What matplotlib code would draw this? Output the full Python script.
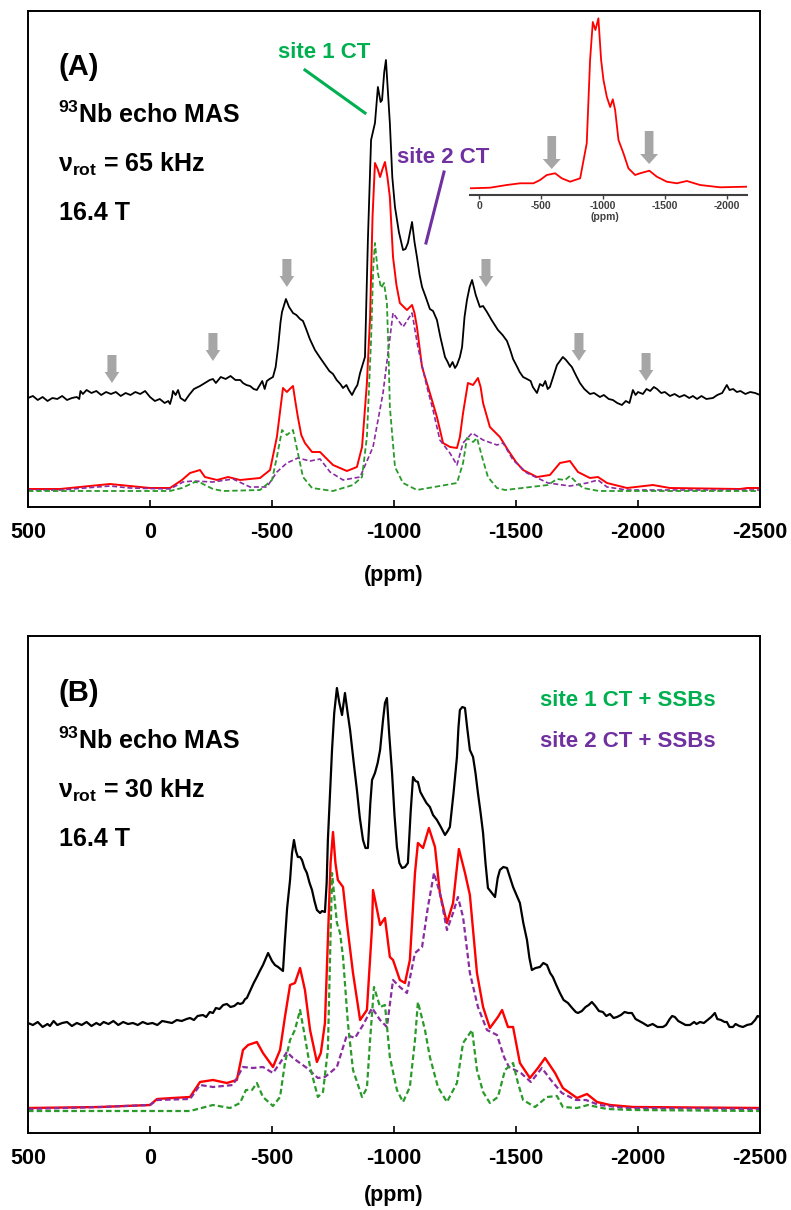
import matplotlib
matplotlib.use("Agg")
import matplotlib.pyplot as plt
from matplotlib.lines import Line2D

# ---- data (ppm positions, intensities in arbitrary units) ----
# panel A: 65 kHz, experimental spectrum
a_black_ppm = [500, 480, 460, 440, 420, 400, 380, 360, 340, 320, 300, 290, 285, 275, 260, 240, 220, 200,
               180, 160, 140, 120, 100, 80, 60, 40, 20, 10, 0, -20, -40, -60, -75, -82, -90, -94, -105,
               -115, -125, -143, -160, -180, -205, -225, -245, -258, -270, -290, -310, -330, -350, -370,
               -381, -395, -410, -425, -438, -450, -460, -470, -479, -490, -504, -515, -525, -535, -541,
               -557, -570, -586, -600, -615, -627, -640, -655, -676, -695, -715, -735, -750, -765, -780,
               -791, -805, -815, -828, -840, -850, -861, -881, -893, -906, -922, -934, -945, -951, -960,
               -967, -975, -983, -993, -1004, -1020, -1037, -1047, -1057, -1066, -1074, -1084, -1094,
               -1105, -1115, -1130, -1147, -1160, -1176, -1190, -1209, -1220, -1229, -1240, -1250, -1258,
               -1270, -1279, -1289, -1299, -1310, -1320, -1335, -1352, -1365, -1381, -1400, -1426, -1445,
               -1463, -1475, -1488, -1505, -1515, -1529, -1545, -1560, -1569, -1586, -1598, -1610, -1620,
               -1630, -1639, -1652, -1668, -1680, -1692, -1705, -1718, -1729, -1745, -1762, -1780, -1803,
               -1820, -1844, -1860, -1880, -1897, -1915, -1934, -1950, -1965, -1979, -1990, -2000, -2020,
               -2035, -2050, -2065, -2078, -2095, -2110, -2131, -2150, -2170, -2190, -2210, -2225, -2242,
               -2260, -2280, -2307, -2325, -2345, -2364, -2375, -2390, -2405, -2420, -2440, -2460, -2480,
               -2500]
a_black_int = [109, 111, 107, 110, 106, 109, 108, 111, 107, 109, 110, 108, 116, 113, 117, 114, 116, 112,
               115, 113, 115, 111, 114, 112, 115, 113, 116, 113, 110, 106, 108, 104, 106, 103, 110, 116, 112,
               117, 109, 106, 112, 118, 121, 124, 127, 128, 124, 130, 128, 131, 127, 127,
               124, 122, 121, 118, 117, 122, 126, 118, 126, 128, 130, 140, 160, 185, 195,
               208, 200, 194, 192, 188, 186, 178, 168, 157, 150, 143, 136, 133, 127, 123,
               119, 122, 117, 112, 118, 122, 134, 150, 267, 367, 384, 420, 405, 407, 435,
               447, 415, 384, 330, 300, 275, 257, 258, 264, 275, 285, 265, 250,
               232, 220, 210, 198, 196, 187, 170, 150, 145, 140, 145, 139, 142,
               150, 160, 190, 207, 220, 227, 212, 200, 201, 195, 187, 177, 172,
               166, 158, 148, 140, 135, 130, 128, 126, 120, 114, 123, 121, 126,
               118, 120, 130, 142, 146, 150, 147, 143, 140, 132, 124, 118, 113,
               114, 110, 112, 108, 107, 104, 102, 106, 104, 117, 112, 115, 113,
               118, 116, 120, 118, 114, 115, 111, 113, 110, 112, 109, 111, 108,
               111, 108, 109, 112, 114, 122, 117, 118, 115, 116, 113, 115, 114,
               112]

a_red_ppm = [500, 369, 164, 0, -82, -131, -164, -205, -225, -275, -320, -369, -451, -492, -520, -545, -553,
             -561, -573, -586, -596, -606, -620, -635, -664, -697, -717, -750, -807, -848, -869, -889, -902,
             -912, -922, -933, -943, -953, -963, -973, -983, -996, -1010, -1024, -1053, -1074, -1084, -1094,
             -1115, -1147, -1176, -1201, -1230, -1258, -1270, -1283, -1303, -1324, -1344, -1355, -1365, -1393,
             -1434, -1467, -1500, -1529, -1586, -1639, -1680, -1721, -1754, -1803, -1836, -1873, -1955, -2061,
             -2131, -2418, -2447, -2500]
a_red_int = [18, 18, 23, 19, 19, 27, 34, 37, 30, 27, 30, 27, 29, 37, 70, 119, 117,
             115, 118, 121, 105, 90, 72, 64, 55, 55, 50, 42, 36, 40, 60, 124, 190,
             290, 344, 338, 330, 338, 345, 330, 310, 250, 222, 204, 197, 202, 194, 180,
             140, 114, 90, 64, 60, 59, 70, 94, 124, 122, 129, 120, 104, 80,
             70, 57, 45, 37, 30, 32, 44, 46, 35, 29, 30, 24, 19, 22,
             19, 18, 19, 19]

a_site1_ppm = [500, -82, -131, -184, -209, -258, -299, -451, -500, -520, -541, -561, -586, -606, -627, -664,
               -750, -832, -869, -889, -906, -915, -922, -934, -947, -959, -971, -978, -983, -1004, -1037,
               -1094, -1258, -1283, -1299, -1324, -1340, -1361, -1385, -1422, -1455, -1631, -1668, -1701,
               -1721, -1750, -1775, -1840, -2500]
a_site1_int = [16, 16, 19, 25, 24, 18, 16, 17, 27, 50, 77, 72, 77, 54, 30, 19,
               16, 22, 30, 70, 167, 240, 264, 234, 219, 224, 204, 150, 100, 40, 24,
               17, 24, 44, 69, 65, 69, 50, 30, 19, 17, 22, 28, 27,
               31, 24, 19, 16, 16]

a_site2_ppm = [500, 369, 164, 82, -82, -135, -176, -258, -340, -410, -479, -520, -561, -606, -656, -697,
               -738, -791, -861, -914, -955, -996, -1037, -1074, -1098, -1135, -1160, -1188, -1229, -1258,
               -1283, -1320, -1365, -1422, -1447, -1488, -1545, -1631, -1721, -1791, -1836, -1873, -1955, -2500]
a_site2_int = [17, 17, 21, 19, 18, 25, 26, 25, 28, 20, 20, 35, 44, 49, 46, 48,
               35, 27, 30, 60, 114, 194, 180, 194, 160, 120, 97, 67, 54, 42,
               64, 74, 67, 62, 64, 47, 34, 24, 21, 24, 27, 20, 17, 17]

# inset: simulated spectrum
ins_ppm = [73, -89, -223, -331, -438, -492, -546, -613, -667, -734, -815, -868, -895, -917, -938, -962,
           -984, -1003, -1030, -1057, -1078, -1097, -1124, -1164, -1204, -1258, -1298, -1373, -1433, -1513,
           -1594, -1675, -1782, -1943, -2159]
ins_int = [6.7, 7.3, 10, 11.7, 11.7, 15, 20, 21.7, 16.7, 13.3, 16.7, 51.7, 135, 173, 165, 176.7,
           135, 115, 98, 88, 95.7, 85, 55, 41.7, 26.7, 20, 21.7, 24.3, 18.3, 13.3,
           11.7, 14, 10, 7.7, 8.3]

# panel B: 30 kHz, experimental spectrum
b_black_ppm = [500, 480, 460, 440, 420, 410, 395, 380, 360, 340, 320, 300, 280, 260, 240, 220, 205, 190,
               170, 150, 130, 110, 90, 70, 50, 30, 10, -10, -30, -50, -70, -90, -110, -130, -150, -164,
               -180, -195, -217, -230, -245, -258, -270, -285, -300, -315, -330, -345, -360, -369, -380,
               -390, -397, -410, -425, -438, -450, -463, -475, -484, -492, -500, -512, -525, -540, -545,
               -553, -562, -574, -582, -590, -598, -606, -615, -623, -633, -643, -654, -664, -674, -684,
               -697, -705, -717, -724, -729, -738, -746, -755, -766, -776, -787, -799, -810, -820, -835,
               -848, -860, -873, -883, -893, -903, -910, -922, -933, -943, -950, -955, -963, -971, -980,
               -992, -1002, -1012, -1022, -1033, -1045, -1057, -1068, -1078, -1088, -1098, -1108, -1119,
               -1133, -1147, -1160, -1176, -1192, -1209, -1220, -1229, -1244, -1258, -1264, -1270, -1280,
               -1291, -1300, -1311, -1324, -1334, -1344, -1355, -1365, -1375, -1385, -1398, -1414, -1425,
               -1434, -1448, -1463, -1476, -1488, -1502, -1516, -1530, -1545, -1555, -1565, -1580, -1598,
               -1612, -1627, -1640, -1651, -1665, -1680, -1695, -1713, -1730, -1745, -1754, -1770, -1785,
               -1798, -1811, -1825, -1840, -1856, -1870, -1885, -1900, -1914, -1930, -1945, -1960, -1975,
               -1990, -2005, -2020, -2040, -2060, -2080, -2102, -2115, -2130, -2140, -2151, -2165, -2180,
               -2195, -2213, -2230, -2240, -2254, -2270, -2285, -2300, -2315, -2325, -2340, -2355, -2364,
               -2375, -2389, -2400, -2415, -2430, -2447, -2465, -2480, -2490, -2500]
b_black_int = [110, 108, 111, 106, 109, 107, 112, 108, 110, 111, 107, 110, 108, 111, 107, 110, 108, 111,
               109, 112, 108, 111, 109, 110, 108, 111, 109, 110, 108, 112, 111, 110, 113, 112, 114, 115,
               113, 117, 118, 116, 121, 120, 125, 124, 128, 129, 126, 127, 130, 129, 130,
               134, 135, 142, 150, 156, 162, 168, 175, 180, 176, 172, 168, 166, 163, 162,
               193, 225, 253, 280, 293, 282, 276, 276, 273, 265, 260, 250, 243, 232, 223,
               220, 222, 221, 250, 293, 340, 383, 420, 445, 430, 418, 440, 420, 403, 370,
               343, 315, 293, 285, 285, 330, 353, 360, 370, 383, 400, 413, 430, 435, 400,
               360, 318, 286, 270, 265, 266, 270, 320, 356, 352, 351, 341, 336,
               330, 326, 318, 313, 306, 298, 302, 306, 340, 376, 405, 423, 426,
               425, 405, 383, 376, 360, 340, 320, 300, 270, 245, 241, 236, 255,
               263, 266, 265, 255, 246, 238, 230, 210, 193, 175, 163, 165, 166,
               170, 168, 160, 156, 148, 140, 133, 130, 125, 121, 120, 122, 126,
               128, 131, 127, 122, 121, 117, 119, 115, 116, 118, 121, 120, 120,
               114, 112, 110, 107, 109, 106, 106, 108, 114, 117, 116, 112, 110,
               108, 108, 111, 109, 111, 110, 113, 116, 120, 114, 113, 111, 111,
               106, 106, 109, 107, 106, 108, 109, 113, 117, 116]

b_red_ppm = [500, 205, 0, -29, -94, -164, -205, -258, -315, -356, -381, -402, -438, -463, -504, -533, -553,
             -574, -594, -615, -635, -656, -684, -700, -717, -729, -740, -750, -760, -770, -791, -807, -832,
             -861, -889, -910, -914, -925, -943, -963, -983, -996, -1024, -1045, -1065, -1086, -1098, -1119,
             -1143, -1168, -1188, -1217, -1242, -1266, -1291, -1311, -1340, -1365, -1393, -1426, -1443, -1467,
             -1488, -1516, -1557, -1590, -1619, -1660, -1692, -1750, -1791, -1832, -1885, -1979, -2500]
b_red_int = [25, 26, 28, 34, 35, 36, 51, 53, 50, 53, 83, 88, 91, 80, 66, 83, 116,
             148, 150, 165, 143, 103, 71, 80, 110, 193, 270, 301, 270, 253, 246, 210, 160,
             113, 123, 206, 243, 230, 208, 215, 176, 173, 153, 150, 173, 260, 290, 285,
             305, 286, 240, 210, 230, 284, 260, 238, 160, 126, 105, 116, 123, 106,
             106, 70, 55, 65, 75, 60, 45, 35, 39, 31, 28, 26, 25]

b_site1_ppm = [500, -164, -258, -328, -369, -393, -418, -438, -463, -504, -533, -553, -574, -594, -615, -635,
               -656, -688, -709, -729, -746, -766, -779, -791, -811, -832, -869, -889, -902, -918, -943, -963,
               -983, -1012, -1037, -1065, -1086, -1098, -1127, -1147, -1180, -1217, -1258, -1283, -1320, -1340,
               -1365, -1393, -1426, -1455, -1488, -1508, -1529, -1578, -1627, -1668, -1692, -1750, -1795, -1873,
               -1979, -2500]
b_site1_int = [22, 22, 28, 25, 30, 43, 43, 50, 36, 27, 36, 70, 93, 103, 123, 96,
               66, 36, 41, 83, 260, 210, 200, 176, 110, 63, 36, 45, 93, 146, 126, 128,
               76, 43, 31, 46, 93, 131, 103, 76, 46, 31, 50, 90, 103, 63,
               41, 30, 36, 63, 70, 50, 33, 26, 36, 37, 26, 25, 28, 24,
               23, 22]

b_site2_ppm = [500, 205, 0, -29, -164, -205, -258, -340, -381, -422, -463, -504, -533, -561, -586, -643,
               -688, -717, -766, -807, -840, -873, -910, -943, -971, -996, -1024, -1053, -1086, -1115, -1139,
               -1164, -1188, -1217, -1242, -1262, -1283, -1311, -1344, -1381, -1422, -1451, -1471, -1520, -1561,
               -1606, -1643, -1688, -1746, -1787, -1840, -1951, -2500]
b_site2_int = [24, 26, 28, 33, 34, 48, 46, 48, 66, 65, 66, 60, 70, 81, 75, 65,
               55, 56, 66, 98, 95, 108, 125, 113, 106, 153, 146, 140, 180, 186, 226,
               260, 240, 203, 220, 236, 216, 160, 126, 103, 98, 76, 66, 60, 51,
               65, 53, 40, 33, 33, 28, 25, 24]

xticks = [500, 0, -500, -1000, -1500, -2000, -2500]
inset_ticks = [0, -500, -1000, -1500, -2000]
arrow_ppm_a = [156, -258, -561, -1377, -1758, -2033]
arrow_top_a = [152, 174, 248, 248, 174, 154]
arrow_ppm_ins = [-586, -1371]
arrow_top_ins = [59, 64]

# ---- figure ----
W, H = 791, 1210
plt.rcParams['font.family'] = ['Liberation Sans', 'DejaVu Sans']
plt.rcParams['font.weight'] = 'bold'
plt.rcParams['mathtext.fontset'] = 'custom'
plt.rcParams['mathtext.rm'] = 'Liberation Sans:bold'
plt.rcParams['mathtext.it'] = 'Liberation Sans:bold'
plt.rcParams['mathtext.bf'] = 'Liberation Sans:bold'
plt.rcParams['mathtext.default'] = 'rm'

fig = plt.figure(figsize=(W / 100, H / 100), dpi=100)

def fx(x):
    return x / W

def fy(y):
    return 1 - y / H

GREEN_TXT = '#00b050'
PURPLE_TXT = '#7030a0'
GREEN = '#2a9a2a'
PURPLE = '#8a2ca0'
GRAY = '#a6a6a6'


def setup_main(ax, top):
    ax.set_xlim(500, -2500)
    ax.set_ylim(0, top)
    ax.set_yticks([])
    ax.set_xticks(xticks)
    ax.set_xticklabels([str(t) for t in xticks])
    ax.tick_params(axis='x', direction='in', length=5, width=1.2, pad=11, labelsize=15.5)
    for lab in ax.get_xticklabels():
        lab.set_fontweight('bold')
    for s in ax.spines.values():
        s.set_linewidth(1.4)


# panel A
axA = fig.add_axes([fx(28), fy(507), 732 / W, 496 / H])
setup_main(axA, 496)
axA.plot(a_black_ppm, a_black_int, color='black', lw=1.3)
axA.plot(a_red_ppm, a_red_int, color='red', lw=1.4)
axA.plot(a_site2_ppm, a_site2_int, color=PURPLE, lw=1.2, ls=(0, (3, 1.6)))
axA.plot(a_site1_ppm, a_site1_int, color=GREEN, lw=1.3, ls=(0, (3, 1.6)))
for p, t in zip(arrow_ppm_a, arrow_top_a):
    axA.arrow(p, t, 0, -28, width=37, head_width=60, head_length=11,
              length_includes_head=True, color=GRAY, lw=0)

# inset
axI = fig.add_axes([fx(470), fy(195), 277 / W, 180 / H])
axI.patch.set_alpha(0)
axI.set_xlim(73, -2160)
axI.set_ylim(0, 180)
for k in ['top', 'left', 'right']:
    axI.spines[k].set_visible(False)
axI.spines['bottom'].set_color('#404040')
axI.spines['bottom'].set_linewidth(1.5)
axI.set_yticks([])
axI.set_xticks(inset_ticks)
axI.set_xticklabels([str(t) for t in inset_ticks])
axI.tick_params(axis='x', direction='out', length=3, width=1, pad=1, labelsize=7.5, colors='#404040')
for lab in axI.get_xticklabels():
    lab.set_fontweight('bold')
axI.plot(ins_ppm, ins_int, color='red', lw=1.3)
for p, t in zip(arrow_ppm_ins, arrow_top_ins):
    axI.arrow(p, t, 0, -33, width=70, head_width=145, head_length=10,
              length_includes_head=True, color=GRAY, lw=0)
fig.text(fx(605), fy(217), '(ppm)', ha='center', va='center', fontsize=7.5, fontweight='bold', color='#404040')

# panel B
axB = fig.add_axes([fx(28), fy(1133), 732 / W, 497 / H])
setup_main(axB, 497)
axB.plot(b_black_ppm, b_black_int, color='black', lw=1.6)
axB.plot(b_red_ppm, b_red_int, color='red', lw=1.7)
axB.plot(b_site2_ppm, b_site2_int, color=PURPLE, lw=1.6, ls=(0, (2.5, 1.4)))
axB.plot(b_site1_ppm, b_site1_int, color=GREEN, lw=1.6, ls=(0, (2.5, 1.4)))

# axis titles
fig.text(fx(394), fy(575), '(ppm)', ha='center', va='center', fontsize=15.5, fontweight='bold')
fig.text(fx(394), fy(1195), '(ppm)', ha='center', va='center', fontsize=15.5, fontweight='bold')

# panel texts
for lab, y0, rot in [('(A)', 0, '65'), ('(B)', 626, '30')]:
    fig.text(fx(59), fy(67 + y0), lab, ha='left', va='center', fontsize=21, fontweight='bold')
    fig.text(fx(58), fy(123 + y0), r'$^{93}$Nb echo MAS', ha='left', va='baseline', fontsize=18, fontweight='bold')
    fig.text(fx(58), fy(172 + y0), r'ν$_{\mathrm{rot}}$ = ' + rot + ' kHz', ha='left', va='baseline',
             fontsize=18, fontweight='bold')
    fig.text(fx(59), fy(220 + y0), '16.4 T', ha='left', va='baseline', fontsize=18, fontweight='bold')

fig.text(fx(278), fy(58), 'site 1 CT', ha='left', va='baseline', fontsize=16, fontweight='bold', color=GREEN_TXT)
fig.add_artist(Line2D([fx(305), fx(365)], [fy(70), fy(113)], transform=fig.transFigure, color=GREEN_TXT, lw=2.2))
fig.text(fx(397), fy(163), 'site 2 CT', ha='left', va='baseline', fontsize=16, fontweight='bold', color=PURPLE_TXT)
fig.add_artist(Line2D([fx(444), fx(426)], [fy(172), fy(243)], transform=fig.transFigure, color=PURPLE_TXT, lw=2.2))

fig.text(fx(540), fy(706), 'site 1 CT + SSBs', ha='left', va='baseline', fontsize=16, fontweight='bold', color=GREEN_TXT)
fig.text(fx(540), fy(747), 'site 2 CT + SSBs', ha='left', va='baseline', fontsize=16, fontweight='bold', color=PURPLE_TXT)

fig.savefig('out.png', dpi=100)
